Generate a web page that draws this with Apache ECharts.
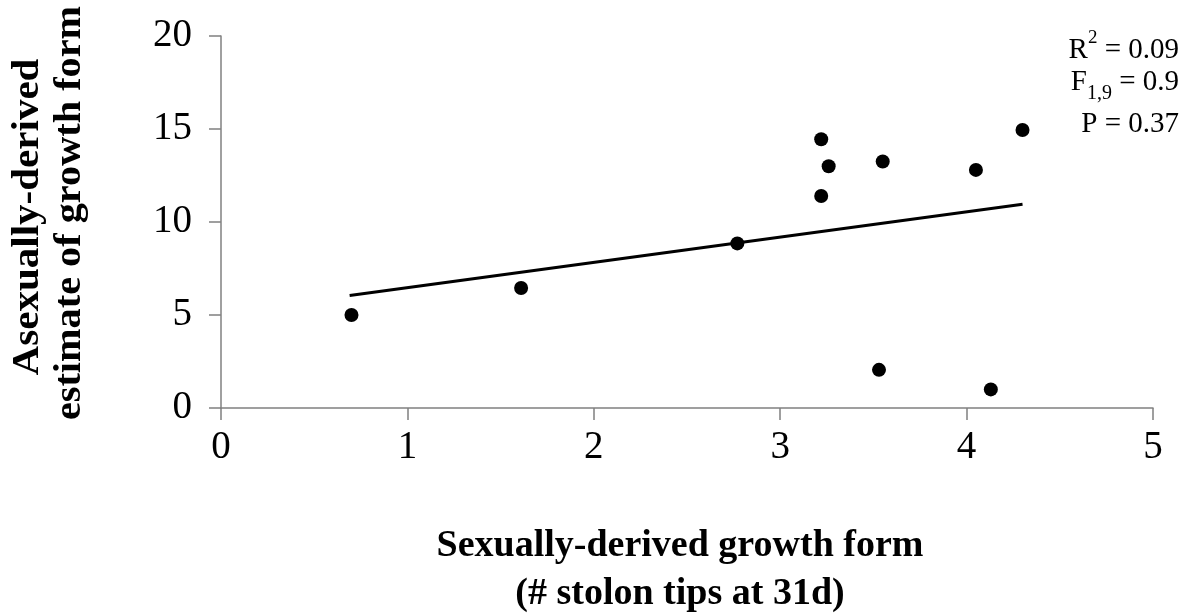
<!DOCTYPE html>
<html>
<head>
<meta charset="utf-8">
<script src="https://cdn.jsdelivr.net/npm/echarts@6/dist/echarts.min.js"></script>
<style>
  html, body { margin: 0; padding: 0; background: #fff; }
  #chart { width: 1193px; height: 615px; }
</style>
</head>
<body>
<div id="chart"></div>
<script>
// Stolon tips of sexually-derived vs asexually-derived growth form
const sexualTips = [0.70, 1.61, 2.77, 3.22, 3.26, 3.22, 3.55, 4.05, 4.30, 3.53, 4.13];
const asexualEstimate = [5.0, 6.45, 8.85, 14.45, 13.0, 11.4, 13.25, 12.8, 14.95, 2.05, 1.0];

// Fitted regression line end points
const trendX = [0.69, 4.30];
const trendY = [6.05, 10.95];

const xTicks = { min: 0, max: 5, interval: 1 };
const yTicks = { min: 0, max: 20, interval: 5 };

const FONT = '"Liberation Serif", "Times New Roman", serif';
const AXIS_GREY = '#808080';

const points = sexualTips.map((x, i) => [x, asexualEstimate[i]]);
const trend = trendX.map((x, i) => [x, trendY[i]]);

const chart = echarts.init(document.getElementById('chart'), null, { renderer: 'canvas' });

const axisCommon = {
  type: 'value',
  splitLine: { show: false },
  axisLine: { show: true, lineStyle: { color: AXIS_GREY, width: 1.5 } },
  axisTick: { show: true, inside: false, length: 12, lineStyle: { color: AXIS_GREY, width: 1.5 } },
  axisLabel: { color: '#000', fontFamily: FONT, fontSize: 39 }
};

chart.setOption({
  animation: false,
  backgroundColor: '#fff',
  grid: { left: 221, right: 40, top: 36, bottom: 207 },
  xAxis: Object.assign({}, axisCommon, {
    min: xTicks.min, max: xTicks.max, interval: xTicks.interval,
    axisLabel: Object.assign({}, axisCommon.axisLabel, { margin: 20 })
  }),
  yAxis: Object.assign({}, axisCommon, {
    min: yTicks.min, max: yTicks.max, interval: yTicks.interval,
    axisLabel: Object.assign({}, axisCommon.axisLabel, { margin: 29 })
  }),
  series: [
    {
      type: 'line',
      data: trend,
      symbol: 'none',
      lineStyle: { color: '#000', width: 3 },
      z: 2
    },
    {
      type: 'scatter',
      data: points,
      symbol: 'circle',
      symbolSize: 14,
      itemStyle: { color: '#000', opacity: 1 },
      z: 3
    }
  ],
  graphic: [
    // y-axis title (two rotated lines)
    {
      type: 'text', x: 28, y: 217, rotation: Math.PI / 2, scaleX: 1.08,
      style: { text: 'Asexually-derived', font: 'bold 38px ' + FONT, fill: '#000', align: 'center', verticalAlign: 'middle' }
    },
    {
      type: 'text', x: 70, y: 213, rotation: Math.PI / 2, scaleX: 1.06,
      style: { text: 'estimate of growth form', font: 'bold 38px ' + FONT, fill: '#000', align: 'center', verticalAlign: 'middle' }
    },
    // x-axis title
    {
      type: 'text', x: 680, y: 546,
      style: { text: 'Sexually-derived growth form', font: 'bold 38px ' + FONT, fill: '#000', align: 'center', verticalAlign: 'middle' }
    },
    {
      type: 'text', x: 680, y: 594,
      style: { text: '(# stolon tips at 31d)', font: 'bold 38px ' + FONT, fill: '#000', align: 'center', verticalAlign: 'middle' }
    },
    // regression statistics
    {
      type: 'text', x: 1179, y: 47,
      style: {
        text: '{b|R}{sup|2}{b| = 0.09}', align: 'right', verticalAlign: 'middle',
        rich: {
          b: { fontFamily: FONT, fontSize: 29, color: '#000', lineHeight: 36, verticalAlign: 'bottom' },
          sup: { fontFamily: FONT, fontSize: 19, color: '#000', lineHeight: 36, verticalAlign: 'top' }
        }
      }
    },
    {
      type: 'text', x: 1179, y: 86,
      style: {
        text: '{b|F}{sub|1,9}{b| = 0.9}', align: 'right', verticalAlign: 'middle',
        rich: {
          b: { fontFamily: FONT, fontSize: 29, color: '#000', lineHeight: 36, verticalAlign: 'top' },
          sub: { fontFamily: FONT, fontSize: 20, color: '#000', lineHeight: 36, verticalAlign: 'bottom' }
        }
      }
    },
    {
      type: 'text', x: 1179, y: 124,
      style: { text: 'P = 0.37', font: '29px ' + FONT, fill: '#000', align: 'right', verticalAlign: 'middle' }
    }
  ]
});
</script>
</body>
</html>
